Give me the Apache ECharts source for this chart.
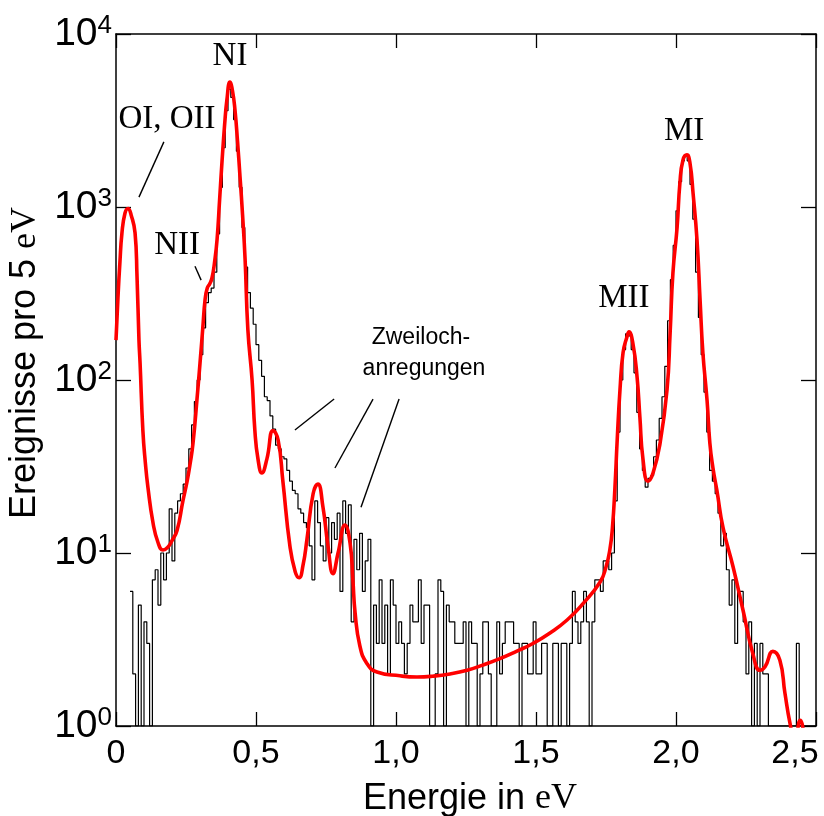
<!DOCTYPE html>
<html><head><meta charset="utf-8">
<script src="https://cdn.jsdelivr.net/npm/echarts/dist/echarts.min.js"></script>
<style>html,body{margin:0;padding:0;background:#fff}#c{width:824px;height:816px}</style>
</head><body><div id="c"></div>
<script>
// ---- data ----
const binStart = 0.05;   // keV, left edge of first bin
const binWidth = 0.01;
const counts = [
 6,2,1,5,1,4,3,1,7,8, 5,10,7,10,18,9,17,20,22,25,
 31,40,55,75,100,140,200,280,320,340, 420,700,1300,2200,3600,4800,4300,3200,2100,1300,
 760,450,320,260,210,160,130,105,80,76, 62,52,42,40,36,35,30,26,23,22,
 18,17,15,14,11,7,20,15,11,9, 16,10,15,12,17,6,20,13,19,4,
 12,8,13,6,9,12,1,5,3,7, 3,5,2,7,5,3,4,3,2,3,
 5,4,4,7,3,5,5,1,1,2, 7,6,1,5,4,4,3,3,3,4,
 1,4,3,3,1,2,4,4,2,1, 1,4,2,3,4,4,4,3,3,1,
 3,3,2,2,4,2,2,3,3,1, 1,3,3,1,3,3,1,3,6,4,
 3,4,6,4,1,4,7,7,6,9, 9,8,10,20,50,100,150,185,180,150,
 110,65,40,30,24,27,28,36,45,60, 80,120,220,380,600,950,1400,1850,1980,1850,
 1350,850,420,230,140,85,50,30,26,22, 17,11,13,8,5,7,3,6,6,4,
 2,4,1,3,1,3,2,2,1,1, 1,1,1,1,1,1,1,1,3,1,
 1,1,1,1,1
];
const fitE = [0.000,0.007,0.014,0.021,0.032,0.043,0.054,0.068,0.075,0.082,0.086,0.096,0.105,0.114,0.132,0.150,0.168,0.185,0.200,0.218,
 0.239,0.254,0.265,0.275,0.290,0.300,0.310,0.318,0.326,0.335,0.343,0.352,0.361,0.370,0.379,0.388,0.396,0.407,0.416,0.425,
 0.434,0.443,0.452,0.461,0.471,0.486,0.496,0.507,0.521,0.539,0.561,0.579,0.596,0.621,0.640,0.654,0.668,0.682,0.704,0.721,
 0.739,0.757,0.775,0.793,0.818,0.836,0.846,0.854,0.871,0.896,0.932,1.014,1.075,1.130,1.193,1.254,1.310,1.371,1.430,1.489,
 1.550,1.611,1.668,1.729,1.750,1.764,1.773,1.782,1.790,1.800,1.811,1.825,1.832,1.846,1.861,1.871,1.882,1.900,1.918,1.943,
 1.968,1.979,1.989,2.004,2.014,2.025,2.039,2.050,2.061,2.075,2.086,2.096,2.111,2.121,2.132,2.146,2.168,2.204,2.239,2.275,
 2.300,2.318,2.346,2.371,2.389,2.407,2.425,2.443,2.461,2.479];
const fitY = [170,300,480,700,920,980,900,710,400,170,125,51,33,24,15,11.5,10.4,10.8,11.8,13.5,
 20,26,33,43,80,125,200,290,340,360,390,480,650,1100,1870,3000,4150,5270,4700,3630,
 2400,1490,900,500,195,100,51,35,29,35,51,45,26,11,7.8,7.2,8.5,12,22,25,
 18.5,11,7.6,10,14.5,11.4,7,4.5,2.9,2.3,2.05,1.95,1.92,1.94,2.0,2.1,2.25,2.45,2.7,3.0,
 3.45,4.1,5.1,6.8,8.3,10.5,14,24,45,88,144,178,190,163,104,61,35,26,29,43,
 88,187,415,765,1380,1870,2000,1790,1200,645,290,144,76,43,31,23,14,8.3,4.7,2.6,
 2.1,2.2,2.7,2.4,1.55,1.04,0.8,1.08,0.8,0.5];
const xTicks = [0, 0.5, 1.0, 1.5, 2.0, 2.5];
const yTicks = [1, 10, 100, 1000, 10000];
// annotations: [text, E, counts]
const labels = [
 ['NI', 0.407, 7400],
 ['OI, OII', 0.182, 3230],
 ['NII', 0.218, 603],
 ['MII', 1.814, 298],
 ['MI', 2.029, 2750]
];
const notes = [['Zweiloch-', 1.089, 175], ['anregungen', 1.10, 117]];
const leaders = [
 [[0.171, 2380], [0.082, 1140]],
 [[0.282, 455], [0.304, 378]],
 [[0.779, 77.6], [0.639, 51.4]],
 [[0.918, 77.6], [0.782, 31]],
 [[1.011, 77.6], [0.875, 18.4]]
];

// ---- build ----
const histData = counts.map((c, k) => [+(binStart + k * binWidth).toFixed(3), c]);
histData.push([+(binStart + counts.length * binWidth).toFixed(3), counts[counts.length - 1]]);
const fitData = fitE.map((e, i) => [e, fitY[i]]);

const chart = echarts.init(document.getElementById('c'), null, {renderer: 'canvas'});
const axisLine = {show: true, onZero: false, lineStyle: {color: '#000', width: 1.5}};
const tick = (len) => ({show: true, inside: true, length: len, lineStyle: {color: '#000', width: 1.3}});
const sans = 'Liberation Sans';
const narrow = '"Liberation Sans Narrow", "Liberation Sans"';
const serif = 'Liberation Serif';

chart.setOption({
 animation: false,
 backgroundColor: '#fff',
 grid: {left: 116, right: 8, top: 34, bottom: 90, containLabel: false, outerBoundsMode: 'none'},
 xAxis: [{
   type: 'value', min: 0, max: 2.5, interval: 0.5, position: 'bottom',
   axisLine, axisTick: tick(14), splitLine: {show: false},
   axisLabel: {fontSize: 34, color: '#000', fontFamily: narrow, margin: 11,
     formatter: v => {
       const s = (v === 0 ? '0' : v.toFixed(1).replace('.', ','));
       return v === xTicks[xTicks.length - 1] ? '{r|' + s + '}' : s;
     },
     rich: {r: {fontSize: 34, fontFamily: narrow, color: '#000', padding: [0, 42, 0, 0]}}},
   name: 'Energie in {s|eV}', nameLocation: 'middle', nameGap: 55,
   nameTextStyle: {fontSize: 36, fontFamily: sans, color: '#000', padding: [0, 0, 0, 8],
     rich: {s: {fontSize: 36, fontFamily: serif, color: '#000'}}}
 }, {
   type: 'value', min: 0, max: 2.5, interval: 0.5, position: 'top',
   axisLine, axisTick: tick(14), axisLabel: {show: false}, splitLine: {show: false}
 }],
 yAxis: [{
   type: 'log', logBase: 10, min: 1, max: 10000, position: 'left',
   axisLine, axisTick: tick(15), splitLine: {show: false}, minorTick: {show: false},
   axisLabel: {margin: 4, color: '#000', fontFamily: sans,
     formatter: v => '{b|10}{s|' + Math.round(Math.log10(v)) + '}',
     rich: {b: {fontSize: 39, fontFamily: sans, color: '#000', lineHeight: 42},
            s: {fontSize: 26, fontFamily: sans, color: '#000', verticalAlign: 'top', lineHeight: 26}}},
   name: 'Ereignisse pro 5 {s|eV}', nameLocation: 'middle', nameGap: 66,
   nameTextStyle: {fontSize: 36, fontFamily: sans, color: '#000', padding: [0, 0, 0, 34],
     rich: {s: {fontSize: 36, fontFamily: serif, color: '#000'}}}
 }, {
   type: 'log', logBase: 10, min: 1, max: 10000, position: 'right',
   axisLine, axisTick: tick(15), axisLabel: {show: false}, splitLine: {show: false}
 }],
 series: [{
   type: 'line', name: 'Messung', data: histData, step: 'end', showSymbol: false, symbol: 'none',
   lineStyle: {color: '#000', width: 1.2}, z: 2, clip: true
 }, {
   type: 'line', name: 'Fit', data: fitData, smooth: 0.5, showSymbol: false, symbol: 'none',
   lineStyle: {color: '#ff0000', width: 3.6}, z: 3, clip: true
 }]
});

const px = (e, v) => chart.convertToPixel({xAxisIndex: 0, yAxisIndex: 0}, [e, v]);
const g = [];
labels.forEach(([t, e, v]) => {
 const p = px(e, v);
 g.push({type: 'text', x: p[0], y: p[1], z: 10,
   style: {text: t, fill: '#000', font: '33px "' + serif + '"', align: 'center', verticalAlign: 'middle'}});
});
notes.forEach(([t, e, v]) => {
 const p = px(e, v);
 g.push({type: 'text', x: p[0], y: p[1], z: 10,
   style: {text: t, fill: '#000', font: '23px "' + sans + '"', align: 'center', verticalAlign: 'middle'}});
});
leaders.forEach(([a, b]) => {
 const p1 = px(a[0], a[1]), p2 = px(b[0], b[1]);
 g.push({type: 'line', z: 10, shape: {x1: p1[0], y1: p1[1], x2: p2[0], y2: p2[1]},
   style: {stroke: '#000', lineWidth: 1.4}});
});
chart.setOption({graphic: g});
</script>
</body></html>
